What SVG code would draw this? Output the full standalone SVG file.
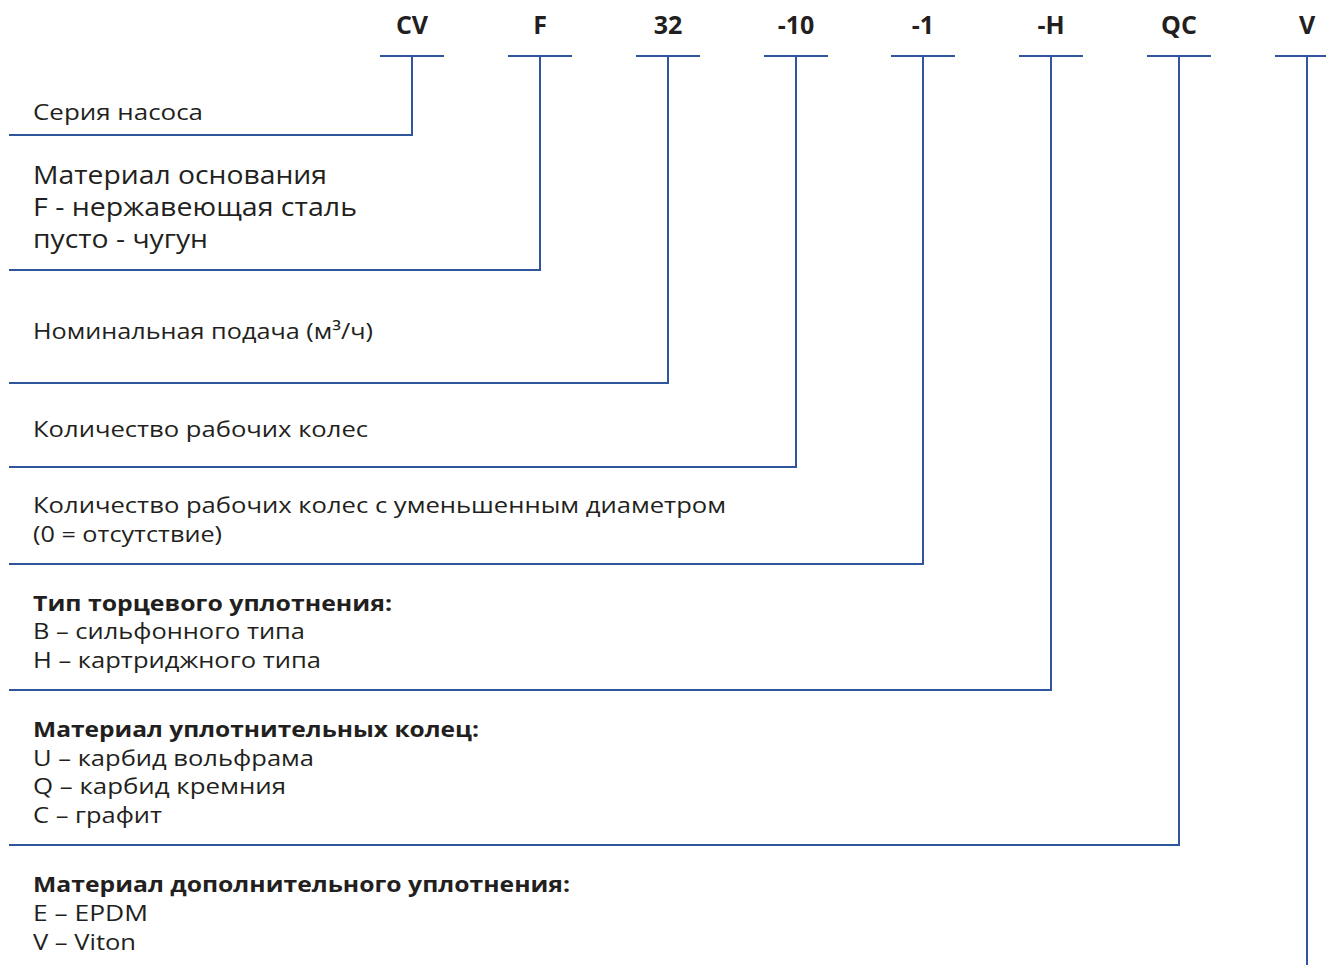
<svg xmlns="http://www.w3.org/2000/svg" width="1326" height="965" viewBox="0 0 1326 965">
<style>
.code{font-family:"Open Sans","Liberation Sans",sans-serif;font-weight:700;font-size:25px;fill:#231f20;text-anchor:middle}
.t{font-family:"Open Sans","Liberation Sans",sans-serif;font-size:22px;fill:#231f20}
.tl{font-family:"Open Sans","Liberation Sans",sans-serif;font-size:25px;fill:#231f20}
.b{font-family:"Open Sans","Liberation Sans",sans-serif;font-size:22px;font-weight:700;fill:#231f20}
.ln{fill:none;stroke:#2f569c;stroke-width:2}
</style>
<rect width="1326" height="965" fill="#ffffff"/>
<g id="codes">
<text class="code" x="412" y="34">CV</text>
<text class="code" x="540" y="34">F</text>
<text class="code" x="668" y="34">32</text>
<text class="code" x="796" y="34">-10</text>
<text class="code" x="923" y="34">-1</text>
<text class="code" x="1051" y="34">-H</text>
<text class="code" x="1179" y="34">QC</text>
<text class="code" x="1307" y="34">V</text>
</g>
<g id="connectors">
<path class="ln" d="M380 56H444M412 56V135H9"/>
<path class="ln" d="M508 56H572M540 56V270H9"/>
<path class="ln" d="M636 56H700M668 56V383H9"/>
<path class="ln" d="M764 56H828M796 56V467H9"/>
<path class="ln" d="M891 56H955M923 56V564H9"/>
<path class="ln" d="M1019 56H1083M1051 56V690H9"/>
<path class="ln" d="M1147 56H1211M1179 56V845H9"/>
<path class="ln" d="M1275 56H1326M1307 56V965"/>
</g>
<g id="node-series">
<text class="t" x="33" y="120" textLength="170" lengthAdjust="spacingAndGlyphs">Серия насоса</text>
</g>
<g id="node-base">
<text class="tl" x="33" y="184" textLength="294" lengthAdjust="spacingAndGlyphs">Материал основания</text>
<text class="tl" x="33" y="216" textLength="324" lengthAdjust="spacingAndGlyphs">F - нержавеющая сталь</text>
<text class="tl" x="33" y="248" textLength="175" lengthAdjust="spacingAndGlyphs">пусто - чугун</text>
</g>
<g id="node-flow">
<text class="t" x="33" y="339" textLength="340" lengthAdjust="spacingAndGlyphs">Номинальная подача (м³/ч)</text>
</g>
<g id="node-impellers">
<text class="t" x="33" y="437" textLength="335" lengthAdjust="spacingAndGlyphs">Количество рабочих колес</text>
</g>
<g id="node-reduced">
<text class="t" x="33" y="513" textLength="693" lengthAdjust="spacingAndGlyphs">Количество рабочих колес с уменьшенным диаметром</text>
<text class="t" x="33" y="542" textLength="189" lengthAdjust="spacingAndGlyphs">(0 = отсутствие)</text>
</g>
<g id="node-seal">
<text class="b" x="33" y="611" textLength="359" lengthAdjust="spacingAndGlyphs">Тип торцевого уплотнения:</text>
<text class="t" x="33" y="639" textLength="272" lengthAdjust="spacingAndGlyphs">B – сильфонного типа</text>
<text class="t" x="33" y="668" textLength="288" lengthAdjust="spacingAndGlyphs">H – картриджного типа</text>
</g>
<g id="node-rings">
<text class="b" x="33" y="737" textLength="446" lengthAdjust="spacingAndGlyphs">Материал уплотнительных колец:</text>
<text class="t" x="33" y="766" textLength="281" lengthAdjust="spacingAndGlyphs">U – карбид вольфрама</text>
<text class="t" x="33" y="794" textLength="253" lengthAdjust="spacingAndGlyphs">Q – карбид кремния</text>
<text class="t" x="33" y="823" textLength="129" lengthAdjust="spacingAndGlyphs">C – графит</text>
</g>
<g id="node-extra">
<text class="b" x="33" y="892" textLength="537" lengthAdjust="spacingAndGlyphs">Материал дополнительного уплотнения:</text>
<text class="t" x="33" y="921" textLength="115" lengthAdjust="spacingAndGlyphs">E – EPDM</text>
<text class="t" x="33" y="950" textLength="103" lengthAdjust="spacingAndGlyphs">V – Viton</text>
</g>
</svg>
